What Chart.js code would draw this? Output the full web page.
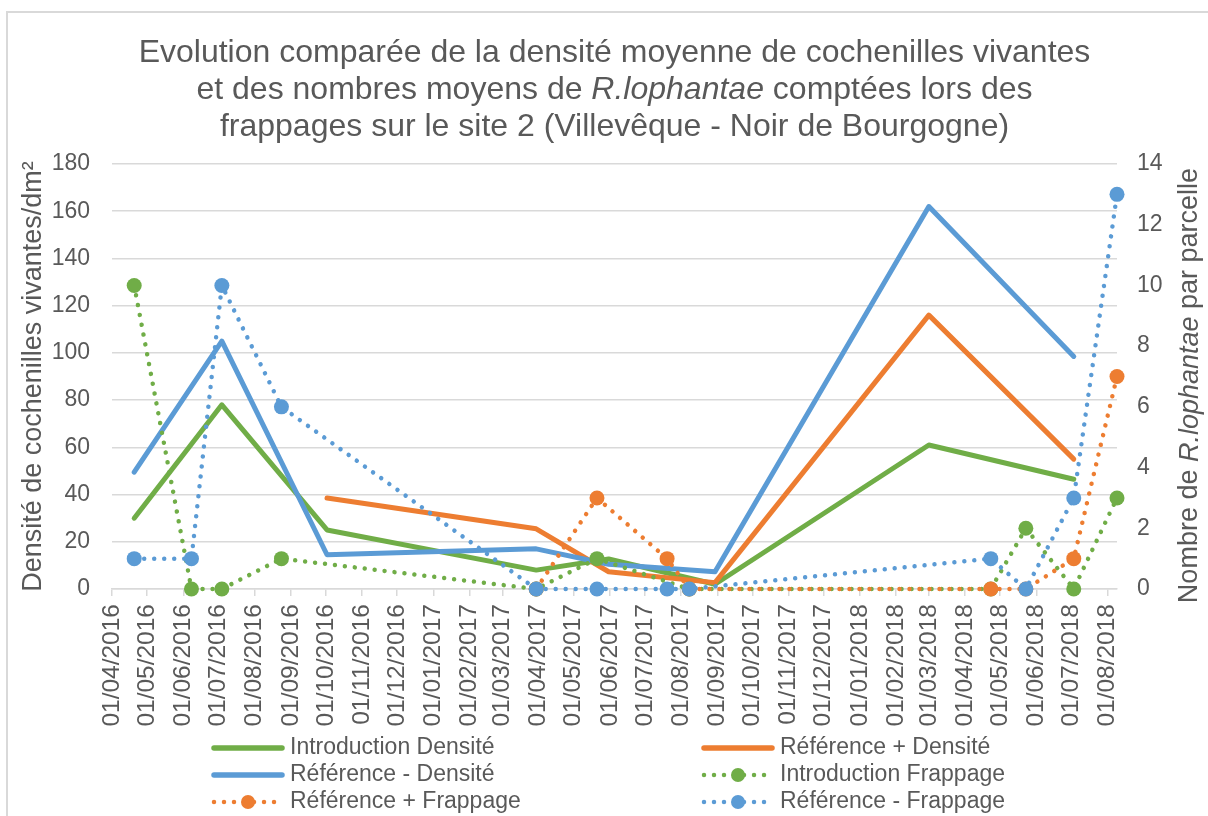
<!DOCTYPE html>
<html>
<head>
<meta charset="utf-8">
<script src="https://cdn.jsdelivr.net/npm/chart.js@4.4.1/dist/chart.umd.min.js"></script>
<style>
  html, body { margin: 0; padding: 0; background: #ffffff; }
  #wrap { position: relative; width: 1208px; height: 816px; }
</style>
</head>
<body>
<div id="wrap"><canvas id="c" width="1208" height="816"></canvas></div>
<script>
// ---------------- DATA ----------------
const tickLabels = ['01/04/2016','01/05/2016','01/06/2016','01/07/2016','01/08/2016','01/09/2016',
  '01/10/2016','01/11/2016','01/12/2016','01/01/2017','01/02/2017','01/03/2017','01/04/2017',
  '01/05/2017','01/06/2017','01/07/2017','01/08/2017','01/09/2017','01/10/2017','01/11/2017',
  '01/12/2017','01/01/2018','01/02/2018','01/03/2018','01/04/2018','01/05/2018','01/06/2018',
  '01/07/2018','01/08/2018'];

const densityDates = ['20/04/2016','04/07/2016','02/10/2016','30/03/2017','31/05/2017','30/08/2017','01/03/2018','03/07/2018'];
const introDensite    = [30, 78, 25, 8, 12.7, 2, 61, 46.5];
const refPlusDensite  = [null, null, 38.5, 25.5, 7.3, 2.7, 116, 55];
const refMinusDensite = [49.5, 105, 14.5, 17, 10.5, 7.3, 162, 98.5];

const frappageDates = ['20/04/2016','08/06/2016','04/07/2016','24/08/2016','30/03/2017','21/05/2017',
  '20/07/2017','08/08/2017','23/04/2018','23/05/2018','03/07/2018','09/08/2018'];
const introFrappage    = [10, 0, 0, 1, 0, 1, null, 0, 0, 2, 0, 3];
const refPlusFrappage  = [null, null, null, null, 0, 3, 1, 0, 0, 0, 1, 7];
const refMinusFrappage = [1, 1, 10, 6, 0, 0, 0, 0, 1, 0, 3, 13];

const seriesLabels = ['Introduction Densité','Référence + Densité','Référence - Densité',
  'Introduction Frappage','Référence + Frappage','Référence - Frappage'];

const titleLines = [
  [{t:'Evolution comparée de la densité moyenne de cochenilles vivantes'}],
  [{t:'et des nombres moyens de '},{t:'R.lophantae', i:true},{t:' comptées lors des'}],
  [{t:'frappages sur le site 2 (Villevêque - Noir de Bourgogne)'}]
];
const leftTitle = 'Densité de cochenilles vivantes/dm²';
const rightTitle = [{t:'Nombre de '},{t:'R.lophantae', i:true},{t:' par parcelle'}];

// ---------------- HELPERS ----------------
const BASE = Date.UTC(2016, 3, 1);
function toDay(s) {
  const [d, m, y] = s.split('/').map(Number);
  return (Date.UTC(y, m - 1, d) - BASE) / 86400000;
}
function pts(dates, vals) { return dates.map((d, i) => ({ x: toDay(d), y: vals[i] })); }
const tickValues = tickLabels.map(toDay);

const GREEN = '#70AD47', ORANGE = '#ED7D31', BLUE = '#5B9BD5';
const TXT = '#595959', GRID = '#D9D9D9';
const FONT = "'Liberation Sans', Arial, sans-serif";

function solid(label, data, color, idx) {
  return { label, data, borderColor: color, backgroundColor: color, borderWidth: 5,
    pointRadius: 0, pointHoverRadius: 0, tension: 0, fill: false, spanGaps: false,
    yAxisID: 'y', order: 5 - idx, borderCapStyle: 'round', borderJoinStyle: 'round', clip: false };
}
function dotted(label, data, color, idx) {
  return { label, data, borderColor: color, backgroundColor: color, borderWidth: 4.5,
    borderDash: [0.001, 10], borderCapStyle: 'round', borderJoinStyle: 'round',
    pointRadius: 7.5, pointHoverRadius: 7.5, pointBorderWidth: 0, pointBackgroundColor: color,
    tension: 0, fill: false, spanGaps: true, yAxisID: 'y2', order: 5 - idx, clip: false,
    dotted: true };
}

const datasets = [
  solid(seriesLabels[0], pts(densityDates, introDensite), GREEN, 0),
  solid(seriesLabels[1], pts(densityDates, refPlusDensite), ORANGE, 1),
  solid(seriesLabels[2], pts(densityDates, refMinusDensite), BLUE, 2),
  dotted(seriesLabels[3], pts(frappageDates, introFrappage), GREEN, 3),
  dotted(seriesLabels[4], pts(frappageDates, refPlusFrappage), ORANGE, 4),
  dotted(seriesLabels[5], pts(frappageDates, refMinusFrappage), BLUE, 5)
];

const xMax = Math.max(...frappageDates.map(toDay), ...densityDates.map(toDay));

// ---------------- PLUGINS ----------------
function drawMixed(ctx, parts, size, cx, y) {
  const widths = parts.map(p => { ctx.font = (p.i ? 'italic ' : '') + size + 'px ' + FONT; return ctx.measureText(p.t).width; });
  const total = widths.reduce((a, b) => a + b, 0);
  let x = cx - total / 2;
  ctx.textAlign = 'left';
  parts.forEach((p, k) => {
    ctx.font = (p.i ? 'italic ' : '') + size + 'px ' + FONT;
    ctx.fillText(p.t, x, y);
    x += widths[k];
  });
}

const decor = {
  id: 'decor',
  beforeDraw(chart) {
    const ctx = chart.ctx;
    ctx.save();
    ctx.fillStyle = '#ffffff';
    ctx.fillRect(0, 0, chart.width, chart.height);
    ctx.strokeStyle = GRID;
    ctx.lineWidth = 2;
    ctx.strokeRect(7, 12, 1400, 1000);
    ctx.restore();
  },
  afterDraw(chart) {
    const ctx = chart.ctx;
    const ca = chart.chartArea;
    ctx.save();
    ctx.fillStyle = TXT;
    ctx.textBaseline = 'alphabetic';
    // title
    const tcx = (ca.left + ca.right) / 2;
    titleLines.forEach((line, k) => drawMixed(ctx, line, 32, tcx, 62 + 37 * k));
    // right axis title
    ctx.save();
    ctx.translate(1190, (ca.top + ca.bottom) / 2 + 9);
    ctx.rotate(-Math.PI / 2);
    ctx.textBaseline = 'middle';
    drawMixed(ctx, rightTitle, 27, 0, 0);
    ctx.restore();
    // legend
    const cols = [212, 702], rows = [748, 775, 802];
    chart.data.datasets.forEach((ds, i) => {
      const x0 = cols[i % 2], y = rows[Math.floor(i / 2)];
      ctx.save();
      ctx.strokeStyle = ds.borderColor;
      ctx.lineWidth = ds.dotted ? 4.5 : 5.5;
      ctx.lineCap = 'round';
      if (ds.dotted) ctx.setLineDash([0.001, 10]);
      ctx.beginPath();
      ctx.moveTo(x0 + 2, y);
      ctx.lineTo(x0 + 70, y);
      ctx.stroke();
      ctx.setLineDash([]);
      if (ds.dotted) {
        ctx.fillStyle = ds.borderColor;
        ctx.beginPath();
        ctx.arc(x0 + 36, y, 7, 0, Math.PI * 2);
        ctx.fill();
      }
      ctx.restore();
      ctx.font = '23px ' + FONT;
      ctx.fillStyle = TXT;
      ctx.textAlign = 'left';
      ctx.textBaseline = 'middle';
      ctx.fillText(ds.label, x0 + 78, y);
    });
    ctx.restore();
  }
};

// ---------------- CHART ----------------
Chart.defaults.font.family = FONT;
Chart.defaults.color = TXT;

new Chart(document.getElementById('c'), {
  type: 'line',
  data: { datasets },
  options: {
    responsive: false,
    animation: false,
    events: [],
    layout: { padding: { top: 164, left: 0, right: 0, bottom: 0 } },
    plugins: { legend: { display: false }, title: { display: false }, tooltip: { enabled: false } },
    scales: {
      x: {
        type: 'linear',
        min: 0,
        max: xMax,
        afterBuildTicks: (s) => { s.ticks = tickValues.map(v => ({ value: v })); },
        afterFit: (s) => { s.height = 816 - 589; },
        ticks: {
          autoSkip: false, minRotation: 90, maxRotation: 90, padding: 8,
          font: { size: 24.5 }, color: TXT,
          callback: (v) => { const k = tickValues.indexOf(v); return k >= 0 ? tickLabels[k] : ''; }
        },
        grid: { drawOnChartArea: false, drawTicks: true, tickLength: 7, color: GRID, lineWidth: 1.5 },
        border: { display: true, color: GRID, width: 1.5 }
      },
      y: {
        position: 'left',
        min: 0, max: 180,
        afterFit: (s) => { s.width = 112; },
        ticks: { stepSize: 20, padding: 22, font: { size: 23 }, color: TXT },
        grid: { color: GRID, lineWidth: 1.5, drawTicks: false },
        border: { display: false },
        title: { display: true, text: leftTitle, font: { size: 27 }, color: TXT, padding: { top: 17, bottom: 0 } }
      },
      y2: {
        position: 'right',
        min: 0, max: 14,
        afterFit: (s) => { s.width = 1208 - 1117; },
        ticks: { stepSize: 2, padding: 20, font: { size: 23 }, color: TXT },
        grid: { display: false, drawTicks: false },
        border: { display: false }
      }
    }
  },
  plugins: [decor]
});
</script>
</body>
</html>
